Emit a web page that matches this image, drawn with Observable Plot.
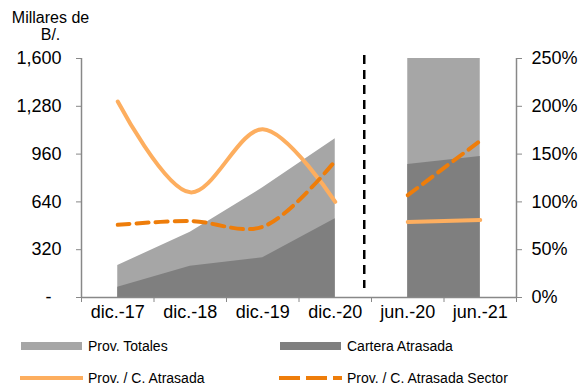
<!DOCTYPE html>
<html>
<head>
<meta charset="utf-8">
<script src="https://cdn.jsdelivr.net/npm/d3@7"></script>
<script src="https://cdn.jsdelivr.net/npm/@observablehq/plot@0.6"></script>
<style>
  body { margin: 0; background: #fff; font-family: "Liberation Sans", Arial, sans-serif; }
  #legend text { font-family: "Liberation Sans", Arial, sans-serif; font-size: 14px; fill: #000; }
</style>
</head>
<body>
<div id="chart"></div>
<svg id="legend" width="584" height="54"></svg>
<script>
// ---- data ----
const categories = ["dic.-17", "dic.-18", "dic.-19", "dic.-20", "jun.-20", "jun.-21"];
const panels = ["A", "A", "A", "A", "B", "B"];
const provTotales = [214, 437, 734, 1062, 1600, 1600];        // Millares de B/.
const carteraAtrasada = [69, 210, 266, 527, 890, 944];         // Millares de B/.
const provCAtrasada = [205, 110, 176, 100, 79, 81];            // %
const provCAtrasadaSector = [76, 80, 74, 143, 107, 164];       // %
const leftTicks = [0, 320, 640, 960, 1280, 1600];
const rightTicks = [0, 50, 100, 150, 200, 250];
const seriesNames = ["Prov. Totales", "Cartera Atrasada", "Prov. / C. Atrasada", "Prov. / C. Atrasada Sector"];
const yLabel = "Millares de\nB/.";

// ---- build ----
const yMax = 1600, pctMax = 250, k = yMax / pctMax;
const rows = categories.map((c, i) => ({
  cat: c, xi: i + 0.5, panel: panels[i],
  total: provTotales[i], cartera: carteraAtrasada[i],
  ratio: provCAtrasada[i], sector: provCAtrasadaSector[i]
}));
const bounds = d3.range(categories.length + 1);
const separatorAt = categories.indexOf("jun.-20") - 0.1;

const cLight = "#a6a6a6", cDark = "#7f7f7f", cOrangeL = "#fdae5f", cOrangeD = "#ee7d0a", axisGray = "#888888";

const plot = Plot.plot({
  width: 584, height: 335,
  marginLeft: 81, marginRight: 68, marginTop: 58, marginBottom: 38,
  x: {type: "linear", domain: [0, categories.length], axis: null, label: null},
  y: {domain: [0, yMax], axis: null, label: null},
  style: {fontFamily: "Liberation Sans, Arial, sans-serif", fontSize: "18px", background: "#fff", color: "#000", overflow: "visible"},
  marks: [
    Plot.areaY(rows, {x: "xi", y1: 0, y2: "total", z: "panel", fill: cLight}),
    Plot.areaY(rows, {x: "xi", y1: 0, y2: "cartera", z: "panel", fill: cDark}),
    Plot.line(rows, {x: "xi", y: d => d.ratio * k, z: "panel", stroke: cOrangeL, strokeWidth: 4, curve: "catmull-rom"}),
    Plot.line(rows, {x: "xi", y: d => d.sector * k, z: "panel", stroke: cOrangeD, strokeWidth: 4, strokeDasharray: "12,7", curve: "catmull-rom"}),
    Plot.ruleX([separatorAt], {stroke: "#000", strokeWidth: 2.5, strokeDasharray: "9,6", insetTop: -3, insetBottom: 9}),
    Plot.ruleX([0, categories.length], {stroke: axisGray, strokeWidth: 1.5}),
    Plot.ruleY([0], {stroke: axisGray, strokeWidth: 1.5}),
    Plot.axisY({anchor: "left", label: null, ticks: leftTicks, tickSize: 5, tickPadding: 15, stroke: axisGray, fill: "#000",
      tickFormat: d => d === 0 ? "-\u2007" : d3.format(",")(d)}),
    Plot.axisY({anchor: "right", label: null, ticks: rightTicks.map(p => p * k), tickSize: 5, tickPadding: 10, stroke: axisGray, fill: "#000",
      tickFormat: d => Math.round(d / k) + "%"}),
    Plot.axisX({anchor: "bottom", label: null, ticks: bounds, tickSize: 5, stroke: axisGray, tickFormat: () => ""}),
    Plot.axisX({anchor: "bottom", label: null, ticks: rows.map(d => d.xi), tickSize: 0, tickPadding: 8, fill: "#000",
      tickFormat: d => categories[Math.round(d - 0.5)]}),
    Plot.text([yLabel], {frameAnchor: "top-left", dx: -31, dy: -47, text: d => d, textAnchor: "middle", lineAnchor: "top", lineHeight: 1.05, fontSize: 16, fill: "#000"})
  ]
});
document.getElementById("chart").appendChild(plot);

// ---- legend ----
const lg = d3.select("#legend");
const items = [
  {x: 21, y: 11, name: seriesNames[0], type: "rect", color: cLight},
  {x: 280, y: 11, name: seriesNames[1], type: "rect", color: cDark},
  {x: 21, y: 43, name: seriesNames[2], type: "line", color: cOrangeL},
  {x: 280, y: 43, name: seriesNames[3], type: "dash", color: cOrangeD}
];
for (const it of items) {
  if (it.type === "rect") {
    lg.append("rect").attr("x", it.x).attr("y", it.y - 4).attr("width", 61).attr("height", 8).attr("fill", it.color);
  } else {
    lg.append("line").attr("x1", it.x - 1).attr("x2", it.x + 62).attr("y1", it.y).attr("y2", it.y)
      .attr("stroke", it.color).attr("stroke-width", 4)
      .attr("stroke-dasharray", it.type === "dash" ? "21,6" : null);
  }
  lg.append("text").attr("x", it.x + 67).attr("y", it.y).attr("dy", "0.35em").text(it.name);
}
</script>
</body>
</html>
